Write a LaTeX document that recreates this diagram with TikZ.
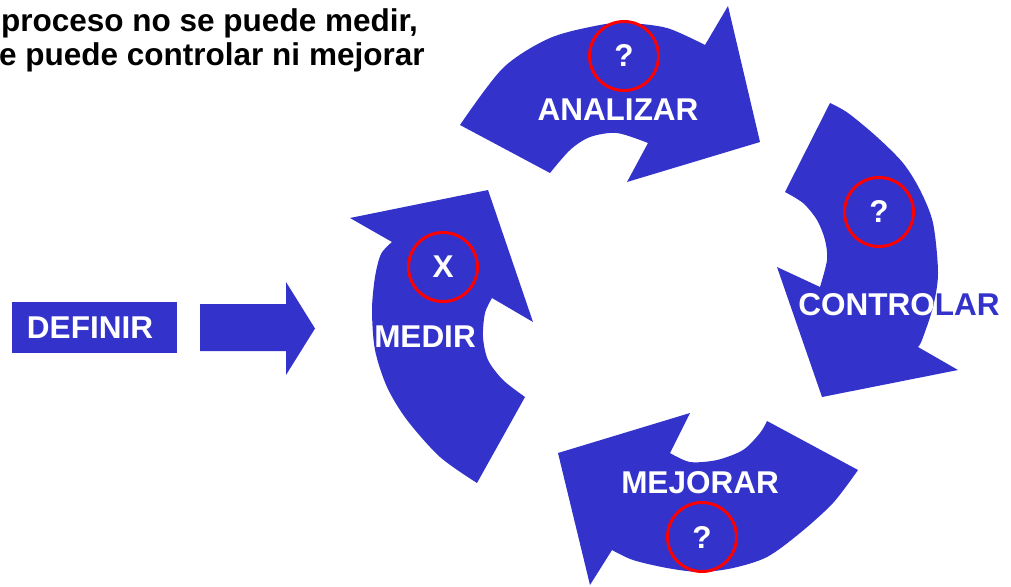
\documentclass[tikz,border=0pt]{standalone}
\usepackage{fontspec}
\setmainfont{Liberation Sans}
\usetikzlibrary{positioning}
\definecolor{cycleblue}{RGB}{51,51,204}
\definecolor{markred}{RGB}{255,0,0}

% outline of the CONTROLAR arrow, used twice (fill and clip)
\newcommand\controlarpath{(830,103) -- plot[smooth] coordinates {(830,103) (848,113) (877,137) (903,163) (920,190) (933,223) (938,273) (933,307) (922,340) (918,347)} -- (958,370) -- (822,397) -- (777,267) -- plot[smooth] coordinates {(820,287) (827,260) (825,240) (817,220) (803,203) (785,192)} -- cycle}

\begin{document}
\begin{tikzpicture}[x=1pt, y=-1pt, font=\bfseries\fontsize{31.5}{36}\selectfont,
  blk/.style={fill=cycleblue},
  lbl/.style={text=white, inner sep=0pt, anchor=base},
  headtext/.style={text=black, inner sep=0pt, anchor=base west},
  qcircle/.style={circle, draw=markred, line width=3pt, minimum size=69pt, inner sep=0pt, text=white},
  defbox/.style={rectangle, fill=cycleblue, text=white, minimum height=51pt, text width=135pt, inner xsep=15pt, inner ysep=0pt, align=left}]
	\useasboundingbox (0,0) rectangle (1011,586);

	\node[headtext] (lineone) at (1,32) {proceso no se puede medir,};
	\node[headtext] (linetwo) at (-1,65) {e puede controlar ni mejorar};

	\node[defbox] (definir) at (94.5,327.5) {DEFINIR};
	\fill[blk] (200,304) -- (286,304) -- (286,282) -- (315,328.5) -- (286,375) -- (286,351) -- (200,351) -- cycle;

	% the four curved arrows
	\fill[blk] (477,483) -- plot[smooth] coordinates {(477,483) (440,457) (407,420) (387,387) (375,350) (372,310) (375,277) (381,254) (392,242)} -- (350,218) -- (488,190) -- (533,322) -- plot[smooth] coordinates {(492,298) (485,313) (483,337) (488,360) (503,380) (525,397)} -- cycle;
	\fill[blk] (460,125) -- plot[smooth] coordinates {(460,125) (503,68) (550,38) (600,25) (627,23) (667,28) (705,45)} -- (728,6) -- (760,142) -- (627,182) -- plot[smooth] coordinates {(648,143) (617,133) (590,137) (570,150) (550,173)} -- cycle;
	\fill[blk] \controlarpath;
	\fill[blk] (858,470) -- plot[smooth] coordinates {(858,470) (833,503) (800,533) (767,557) (733,568) (700,572) (667,568) (633,560) (612,550)} -- (590,585) -- (558,453) -- (690,413) -- plot[smooth] coordinates {(670,453) (690,462) (717,460) (743,450) (760,433) (767,421)} -- cycle;

	\node[lbl] (medir) at (425,347) {MEDIR};
	\node[lbl] (analizar) at (618,120) {ANALIZAR};
	\node[lbl] (mejorar) at (700,493) {MEJORAR};
	\node[lbl, text=cycleblue] (controlarout) at (899,315) {CONTROLAR};
	\begin{scope}
		\clip \controlarpath;
		\node[lbl] (controlar) at (899,315) {CONTROLAR};
	\end{scope}

	\node[qcircle] (qmedir) at (443,267) {X};
	\node[qcircle] (qanalizar) at (624,56) {?};
	\node[qcircle] (qcontrolar) at (879,212) {?};
	\node[qcircle] (qmejorar) at (702,537) {?};
\end{tikzpicture}
\end{document}
